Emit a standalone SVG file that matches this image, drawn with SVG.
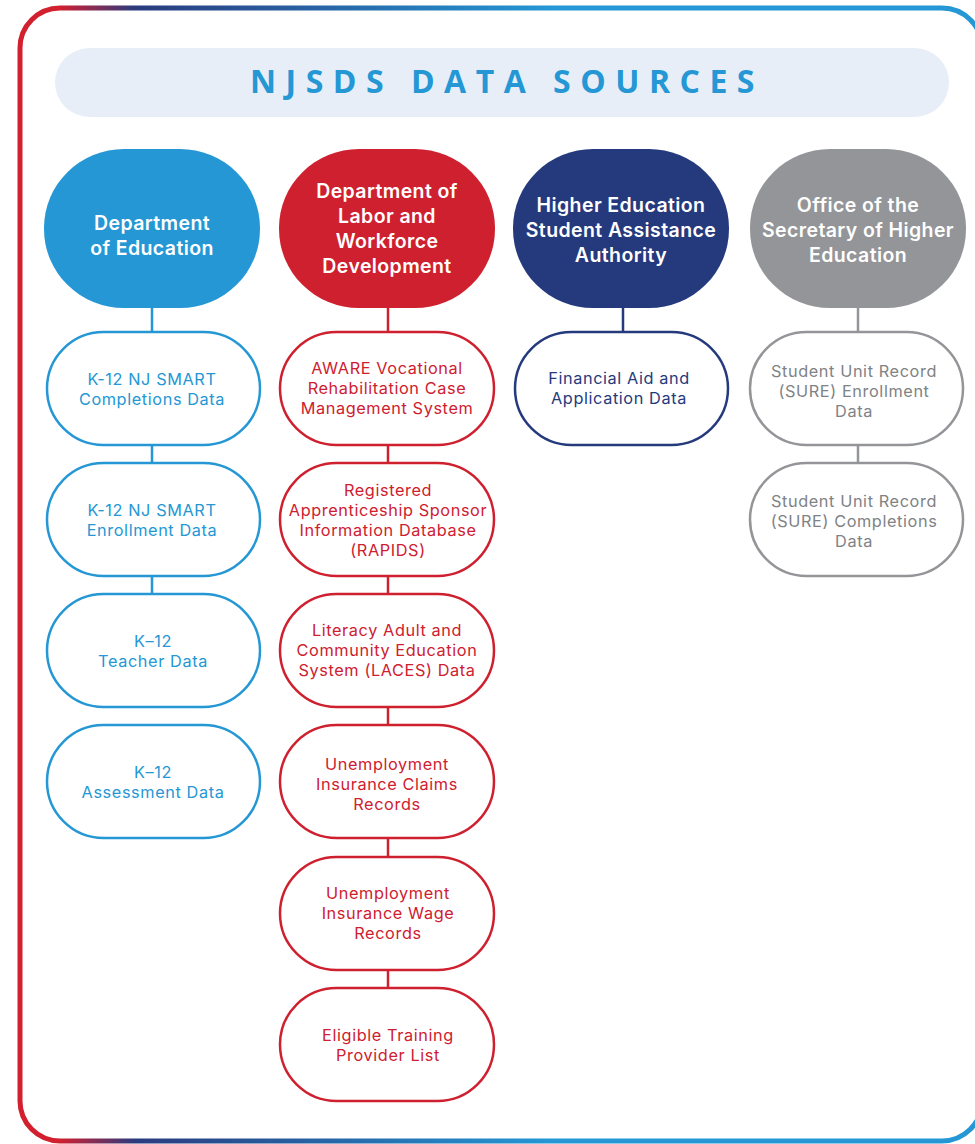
<svg xmlns="http://www.w3.org/2000/svg" width="975" height="1144" viewBox="0 0 975 1144">
<defs>
<linearGradient id="bd" gradientUnits="userSpaceOnUse" x1="20" y1="0" x2="982" y2="0">
<stop offset="0.04" stop-color="#d2202f"/>
<stop offset="0.12" stop-color="#2a3b7e"/>
<stop offset="0.55" stop-color="#2497d4"/>
<stop offset="1" stop-color="#2497d4"/>
</linearGradient>
<style>
text{font-family:Inter,"Liberation Sans",sans-serif;text-anchor:middle}
.hd{font-size:19.5px;font-weight:600;letter-spacing:0.4px;fill:#ffffff}
.ch{font-size:16.3px;font-weight:400;letter-spacing:0.6px}
.cl{fill:#ffffff;stroke-width:2.5}
.ln{stroke-width:2.5;fill:none}
.b{stroke:#2497d4}.bt{fill:#2497d4}
.r{stroke:#cf202f}.rt{fill:#cf202f}
.n{stroke:#253a7d}.nt{fill:#253a7d}
.g{stroke:#939598}.gt{fill:#808285}
</style>
</defs>
<rect width="975" height="1144" fill="#ffffff"/>
<rect id="frame" x="20" y="8" width="962" height="1133" rx="40" ry="40" fill="none" stroke="url(#bd)" stroke-width="5"/>
<g id="title">
<rect x="55" y="48" width="894" height="69" rx="34.5" fill="#e7eef8"/>
<text x="507" y="93" style="font-family:'Open Sans','Liberation Sans',sans-serif;font-size:32px;font-weight:700;letter-spacing:9.5px;fill:#2497d4">NJSDS DATA SOURCES</text>
</g>
<g id="connectors">
<line class="ln b" x1="152" y1="307" x2="152" y2="332"/>
<line class="ln b" x1="152" y1="445" x2="152" y2="463"/>
<line class="ln b" x1="152" y1="576" x2="152" y2="594"/>
<line class="ln r" x1="388" y1="307" x2="388" y2="332"/>
<line class="ln r" x1="388" y1="445" x2="388" y2="463"/>
<line class="ln r" x1="388" y1="576" x2="388" y2="594"/>
<line class="ln r" x1="388" y1="707" x2="388" y2="725"/>
<line class="ln r" x1="388" y1="838" x2="388" y2="857"/>
<line class="ln r" x1="388" y1="970" x2="388" y2="988"/>
<line class="ln n" x1="623" y1="307" x2="623" y2="332"/>
<line class="ln g" x1="858" y1="307" x2="858" y2="332"/>
<line class="ln g" x1="858" y1="445" x2="858" y2="463"/>
</g>
<g id="h-doe">
<rect x="44" y="149" width="216" height="159" rx="80" ry="79" fill="#2497d4"/>
<text class="hd" x="152" y="230">Department</text>
<text class="hd" x="152" y="255">of Education</text>
</g>
<g id="h-dol">
<rect x="279" y="149" width="216" height="159" rx="80" ry="79" fill="#cf202f"/>
<text class="hd" x="387" y="198">Department of</text>
<text class="hd" x="387" y="223">Labor and</text>
<text class="hd" x="387" y="248">Workforce</text>
<text class="hd" x="387" y="273">Development</text>
</g>
<g id="h-hesaa">
<rect x="513" y="149" width="216" height="159" rx="80" ry="79" fill="#253a7d"/>
<text class="hd" x="621" y="212">Higher Education</text>
<text class="hd" x="621" y="237">Student Assistance</text>
<text class="hd" x="621" y="262">Authority</text>
</g>
<g id="h-oshe">
<rect x="750" y="149" width="216" height="159" rx="80" ry="79" fill="#939598"/>
<text class="hd" x="858" y="212">Office of the</text>
<text class="hd" x="858" y="237">Secretary of Higher</text>
<text class="hd" x="858" y="262">Education</text>
</g>
<g id="n-k12-comp">
<rect class="cl b" x="47" y="332" width="213" height="113" rx="56.5"/>
<text class="ch bt" x="152" y="385">K-12 NJ SMART</text>
<text class="ch bt" x="152" y="405">Completions Data</text>
</g>
<g id="n-k12-enr">
<rect class="cl b" x="47" y="463" width="213" height="113" rx="56.5"/>
<text class="ch bt" x="152" y="516">K-12 NJ SMART</text>
<text class="ch bt" x="152" y="536">Enrollment Data</text>
</g>
<g id="n-k12-teach">
<rect class="cl b" x="47" y="594" width="213" height="113" rx="56.5"/>
<text class="ch bt" x="153" y="647">K–12</text>
<text class="ch bt" x="153" y="667">Teacher Data</text>
</g>
<g id="n-k12-assess">
<rect class="cl b" x="47" y="725" width="213" height="113" rx="56.5"/>
<text class="ch bt" x="153" y="778">K–12</text>
<text class="ch bt" x="153" y="798">Assessment Data</text>
</g>
<g id="n-aware">
<rect class="cl r" x="280" y="332" width="214" height="113" rx="56.5"/>
<text class="ch rt" x="387" y="374">AWARE Vocational</text>
<text class="ch rt" x="387" y="394">Rehabilitation Case</text>
<text class="ch rt" x="387" y="414">Management System</text>
</g>
<g id="n-rapids">
<rect class="cl r" x="280" y="463" width="214" height="113" rx="56.5"/>
<text class="ch rt" x="388" y="496">Registered</text>
<text class="ch rt" x="388" y="516">Apprenticeship Sponsor</text>
<text class="ch rt" x="388" y="536">Information Database</text>
<text class="ch rt" x="388" y="556">(RAPIDS)</text>
</g>
<g id="n-laces">
<rect class="cl r" x="280" y="594" width="214" height="113" rx="56.5"/>
<text class="ch rt" x="387" y="636">Literacy Adult and</text>
<text class="ch rt" x="387" y="656">Community Education</text>
<text class="ch rt" x="387" y="676">System (LACES) Data</text>
</g>
<g id="n-ui-claims">
<rect class="cl r" x="280" y="725" width="214" height="113" rx="56.5"/>
<text class="ch rt" x="387" y="770">Unemployment</text>
<text class="ch rt" x="387" y="790">Insurance Claims</text>
<text class="ch rt" x="387" y="810">Records</text>
</g>
<g id="n-ui-wage">
<rect class="cl r" x="280" y="857" width="214" height="113" rx="56.5"/>
<text class="ch rt" x="388" y="899">Unemployment</text>
<text class="ch rt" x="388" y="919">Insurance Wage</text>
<text class="ch rt" x="388" y="939">Records</text>
</g>
<g id="n-etpl">
<rect class="cl r" x="280" y="988" width="214" height="113" rx="56.5"/>
<text class="ch rt" x="388" y="1041">Eligible Training</text>
<text class="ch rt" x="388" y="1061">Provider List</text>
</g>
<g id="n-finaid">
<rect class="cl n" x="515" y="332" width="213" height="113" rx="56.5"/>
<text class="ch nt" x="619" y="384">Financial Aid and</text>
<text class="ch nt" x="619" y="404">Application Data</text>
</g>
<g id="n-sure-enr">
<rect class="cl g" x="750" y="332" width="213" height="113" rx="56.5"/>
<text class="ch gt" x="854" y="377">Student Unit Record</text>
<text class="ch gt" x="854" y="397">(SURE) Enrollment</text>
<text class="ch gt" x="854" y="417">Data</text>
</g>
<g id="n-sure-comp">
<rect class="cl g" x="750" y="463" width="213" height="113" rx="56.5"/>
<text class="ch gt" x="854" y="507">Student Unit Record</text>
<text class="ch gt" x="854" y="527">(SURE) Completions</text>
<text class="ch gt" x="854" y="547">Data</text>
</g>
</svg>
